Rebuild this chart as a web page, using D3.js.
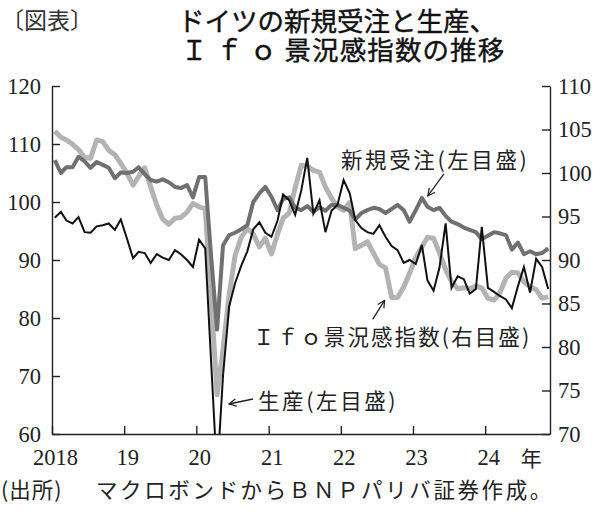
<!DOCTYPE html>
<html><head><meta charset="utf-8">
<script src="https://cdn.jsdelivr.net/npm/d3@7/dist/d3.min.js"></script>
<style>
body{margin:0;background:#fff;}
svg{display:block;}
</style></head><body>
<svg id="c" width="600" height="512"></svg>
<script>
// ---- data (monthly, Jan 2018 – Nov 2024) ----
const startYear = 2018, startMonth = 0;
const newOrders = [
 107.2,105,106,106,107.8,107,105.9,106.9,106.4,105.9,104.1,105.1,
 105,105.2,106,104.8,103.8,103.5,103.9,103.4,102.6,102.4,102.9,100.8,
 104.3,104.3,91,78,92.5,94.3,94.7,95.3,96,100,101.5,102.6,
 100.9,98.6,100.5,100.8,99,98.6,99.3,98.3,99.1,98.5,99.5,99.5,
 99,98.5,97,98.1,98.6,99,98.8,98.1,98.8,99.5,98.6,96.6,
 98.6,100.7,99.2,98.6,99,97.6,96.6,96.2,95.6,95.2,94.8,93.6,
 94.2,94.8,94.6,94.3,91.8,93,91,91.5,91,91.2,92
];
const production = [
 97.3,98.3,96.8,96.3,97.4,94.8,94.7,95.8,96,96.3,95.2,97,
 93.7,90.3,91.4,91.2,89.5,91,90.4,90,91.7,91,90,88.8,
 93.5,92,73,53,70,82,86,89,91.5,95.3,96.5,94.7,
 94,96.8,101.3,100.3,97.8,102,107.6,98,100.3,94.8,98.5,99.5,
 103.8,101.5,96.9,95.5,94.8,94.5,96,94,92.4,91.7,89.5,90,
 89.3,92.6,86.5,84.7,88.7,96.3,85.2,87.2,86.7,84.2,85,95.7,
 85.2,84.5,83.8,83.2,81.7,85.5,88.8,84.4,90.2,88.8,85
];
const ifo = [
 104.8,104.1,103.8,103.3,102.7,101.8,101.7,103.8,103.6,102.6,102.1,101.1,
 100,98.6,99.6,100.6,98.4,96.3,94.7,94.1,94.8,94.9,95.5,96.5,
 96.1,95.9,86,74.5,79.7,86,90.5,92.6,93.6,93,91.5,92.5,
 90.7,93,94.8,95.4,98.3,100.9,100.8,100.3,100.1,98.4,97.1,96.1,
 95.7,96.6,91.3,91.7,92.1,90.8,89.5,89.1,85.7,85.7,86.9,88.5,
 90.3,91.5,92.6,92.5,90.8,88.9,87.5,86.7,86.8,86.7,87,86.8,
 85.6,85.4,86.2,87.9,88.6,88.5,87.5,86.9,86.6,85.6,85.8
];
const yearTicks = [2018,2019,2020,2021,2022,2023,2024];
const yearLabels = ["2018","19","20","21","22","23","24"];
const leftTicks = [60,70,80,90,100,110,120];
const rightTicks = [70,75,80,85,90,95,100,105,110];
const leftDomain = [60,120];
const rightDomain = [70,110];

const corner = "〔図表〕";
const title1 = "ドイツの新規受注と生産、";
const title2a = "Ｉｆｏ";
const title2b = "景況感指数の推移";
const labelOrders = "新規受注(左目盛)";
const labelIfo = "Ｉｆｏ景況感指数(右目盛)";
const labelProd = "生産(左目盛)";
const yearUnit = "年";
const sourceA = "(出所)";
const sourceB = "マクロボンドからＢＮＰパリバ証券作成。";

// ---- layout ----
const L = 52, R = 550, T = 86, B = 434;
const svg = d3.select("#c");
const CJK = "'Noto Sans CJK JP','Noto Sans',sans-serif";
const SERIF = "'Liberation Serif','DejaVu Serif',serif";
const ink = "#222";

const dates = newOrders.map((_, i) => new Date(startYear, startMonth + i, 15));
const x = d3.scaleTime().domain([new Date(2018,0,1), new Date(2024,10,24)]).range([L, R]);
const yL = d3.scaleLinear().domain(leftDomain).range([B, T]);
const yR = d3.scaleLinear().domain(rightDomain).range([B, T]);

svg.append("defs").append("clipPath").attr("id","clip")
  .append("rect").attr("x",L).attr("y",T-10).attr("width",R-L).attr("height",B-T+10);

const plot = svg.append("g").attr("clip-path","url(#clip)");
const lineL = d3.line().x((d,i)=>x(dates[i])).y(d=>yL(d));
const lineR = d3.line().x((d,i)=>x(dates[i])).y(d=>yR(d));

plot.append("path").datum(ifo).attr("d",lineR)
  .attr("fill","none").attr("stroke","#b3b3b3").attr("stroke-width",5).attr("stroke-linejoin","round");
plot.append("path").datum(newOrders).attr("d",lineL)
  .attr("fill","none").attr("stroke","#707070").attr("stroke-width",4).attr("stroke-linejoin","round");
plot.append("path").datum(production).attr("d",lineL)
  .attr("fill","none").attr("stroke","#111").attr("stroke-width",2).attr("stroke-linejoin","miter");

// ---- axes ----
function styleAxis(g){
  g.select(".domain").attr("stroke","#222").attr("stroke-width",1.4);
  g.selectAll(".tick line").attr("stroke","#222").attr("stroke-width",1.4);
  g.selectAll("text").attr("fill",ink).attr("font-family",SERIF).attr("font-size",22.5);
}
const gl = svg.append("g").attr("transform",`translate(${L},0)`)
  .call(d3.axisLeft(yL).tickValues(leftTicks).tickSize(-8).tickSizeOuter(0).tickPadding(11));
styleAxis(gl);
const gr = svg.append("g").attr("transform",`translate(${R},0)`)
  .call(d3.axisRight(yR).tickValues(rightTicks).tickSize(-8).tickSizeOuter(0).tickPadding(8));
styleAxis(gr);
const gb = svg.append("g").attr("transform",`translate(0,${B})`)
  .call(d3.axisBottom(x).tickValues(yearTicks.map(y=>new Date(y,0,1)))
    .tickFormat((d,i)=>yearLabels[i]).tickSize(-8).tickSizeOuter(0).tickPadding(15));
styleAxis(gb);
gb.selectAll("text").attr("dx",3);
svg.append("text").attr("x",x(new Date(2024,0,1))+46).attr("y",457)
  .attr("text-anchor","middle").attr("dominant-baseline","central")
  .attr("font-family",CJK).attr("font-size",21).attr("fill",ink).text(yearUnit);

// ---- titles ----
svg.append("text").attr("x",1).attr("y",19).attr("dominant-baseline","central")
  .attr("font-family",CJK).attr("font-size",23).attr("fill","#333").text(corner);
svg.append("text").attr("x",178).attr("y",19).attr("dominant-baseline","central")
  .attr("font-family",CJK).attr("font-size",26.5).attr("font-weight",400).attr("fill","#111")
  .attr("stroke","#111").attr("stroke-width",0.4).text(title1);
const t2 = svg.append("text").attr("x",181).attr("y",48).attr("dominant-baseline","central")
  .attr("font-family",CJK).attr("font-size",26.5).attr("font-weight",400).attr("fill","#111")
  .attr("stroke","#111").attr("stroke-width",0.4);
t2.append("tspan").style("letter-spacing","8px").text(title2a);
t2.append("tspan").style("letter-spacing","1.1px").text(title2b);

// ---- annotations ----
const ann = (tx, ty, s, ls) => svg.append("text").attr("x",tx).attr("y",ty)
  .attr("dominant-baseline","central").attr("font-family",CJK).attr("font-size",21.5)
  .attr("fill",ink).style("letter-spacing",ls+"px").text(s);
ann(341,158,labelOrders,2.6);
ann(253,335,labelIfo,2.1);
ann(258,399,labelProd,2.6);

svg.append("defs").append("marker").attr("id","ah")
  .attr("viewBox","0 0 10 10").attr("refX",9).attr("refY",5)
  .attr("markerWidth",9).attr("markerHeight",9).attr("markerUnits","userSpaceOnUse")
  .attr("orient","auto")
  .append("path").attr("d","M1,1 L9,5 L1,9").attr("fill","none").attr("stroke","#222").attr("stroke-width",1.4);

function arrow(x1,y1,x2,y2){
  svg.append("line").attr("x1",x1).attr("y1",y1).attr("x2",x2).attr("y2",y2)
    .attr("stroke","#222").attr("stroke-width",1.3).attr("marker-end","url(#ah)");
}
// anchored to data points
const pO = [x(dates[61]), yL(newOrders[61])];
arrow(pO[0]+22, pO[1]-24, pO[0]+6, pO[1]-2);
const pI = [x(dates[56]), yR(ifo[56])];
arrow(pI[0]-19, pI[1]+22, pI[0]-7, pI[1]+3);
arrow(253, 399, 229, 404);

// ---- source ----
const src = svg.append("text").attr("y",488).attr("dominant-baseline","central")
  .attr("font-family",CJK).attr("font-size",21.5).attr("fill",ink);
src.append("tspan").attr("x",1).style("letter-spacing","1px").text(sourceA);
src.append("tspan").attr("x",96).style("letter-spacing","2.6px").text(sourceB);
</script>
</body></html>
